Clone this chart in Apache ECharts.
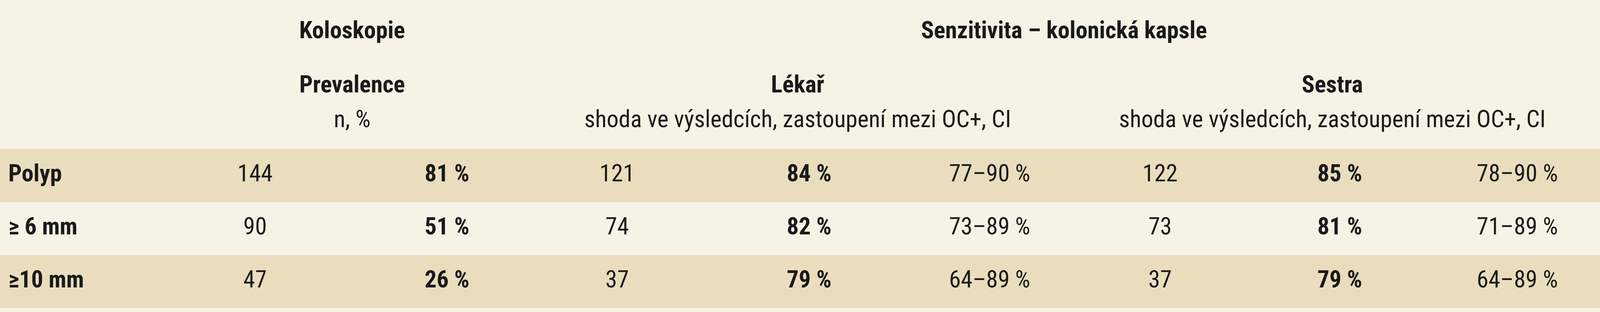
<!DOCTYPE html>
<html><head><meta charset="utf-8">
<script src="https://cdn.jsdelivr.net/npm/echarts@6/dist/echarts.min.js"></script>
<style>html,body{margin:0;padding:0;background:#f7f2e6;overflow:hidden}#c{width:100vw;height:100vh}</style>
</head><body><div id="c"></div>
<script>
const rowLabels = ['Polyp', '≥ 6 mm', '≥10 mm'];
const koloN = ['144', '90', '47'];
const koloPct = ['81 %', '51 %', '26 %'];
const lekarN = ['121', '74', '37'];
const lekarPct = ['84 %', '82 %', '79 %'];
const lekarCI = ['77–90 %', '73–89 %', '64–89 %'];
const sestraN = ['122', '73', '37'];
const sestraPct = ['85 %', '81 %', '79 %'];
const sestraCI = ['78–90 %', '71–89 %', '64–89 %'];
const headers = [
  {t:'Koloskopie', x:1063, y:83, b:true},
  {t:'Senzitivita – kolonická kapsle', x:3212, y:83, b:true},
  {t:'Prevalence', x:1063, y:222, b:true},
  {t:'Lékař', x:2408, y:222, b:true},
  {t:'Sestra', x:4022, y:222, b:true},
  {t:'n, %', x:1063, y:311, b:false},
  {t:'shoda ve výsledcích, zastoupení mezi OC+, CI', x:2408, y:311, b:false},
  {t:'shoda ve výsledcích, zastoupení mezi OC+, CI', x:4022, y:311, b:false}
];
const FONT = '"Liberation Sans Narrow","Roboto Condensed","Open Sans",sans-serif';
const cols = [
  {d:rowLabels, x:25, a:'left', b:true},
  {d:koloN, x:770, a:'center', b:false},
  {d:koloPct, x:1417, a:'right', b:true},
  {d:lekarN, x:1863, a:'center', b:false},
  {d:lekarPct, x:2510, a:'right', b:true},
  {d:lekarCI, x:3110, a:'right', b:false},
  {d:sestraN, x:3502, a:'center', b:false},
  {d:sestraPct, x:4112, a:'right', b:true},
  {d:sestraCI, x:4703, a:'right', b:false}
];
const rowTop = [382, 518, 654], rowH = 136;
const chart = echarts.init(document.getElementById('c'));
const W = chart.getWidth(), H = chart.getHeight();
const sx = W/4830, sy = H/800;
const g = [];
g.push({type:'rect', shape:{x:0,y:0,width:W,height:H}, style:{fill:'#f7f2e6'}, silent:true});
rowTop.forEach((y,i)=>{ if(i%2===0) g.push({type:'rect', shape:{x:0,y:y*sy,width:W,height:rowH*sy}, style:{fill:'#e9ddbd'}, silent:true}); });
const fs = Math.round(72*Math.min(sx,sy));
const txt = (t,x,y,a,b)=>({type:'text', x:x*sx, y:y*sy, style:{text:t, fill:'#1a1a1a', font:(b?'bold ':'')+fs+'px '+FONT, textAlign:a, textVerticalAlign:'middle'}});
headers.forEach(h=>g.push(txt(h.t,h.x,h.y,'center',h.b)));
cols.forEach(c=>c.d.forEach((v,i)=>g.push(txt(v,c.x,rowTop[i]+rowH/2,c.a,c.b))));
chart.setOption({animation:false, backgroundColor:'#f7f2e6', graphic:g});
</script></body></html>
